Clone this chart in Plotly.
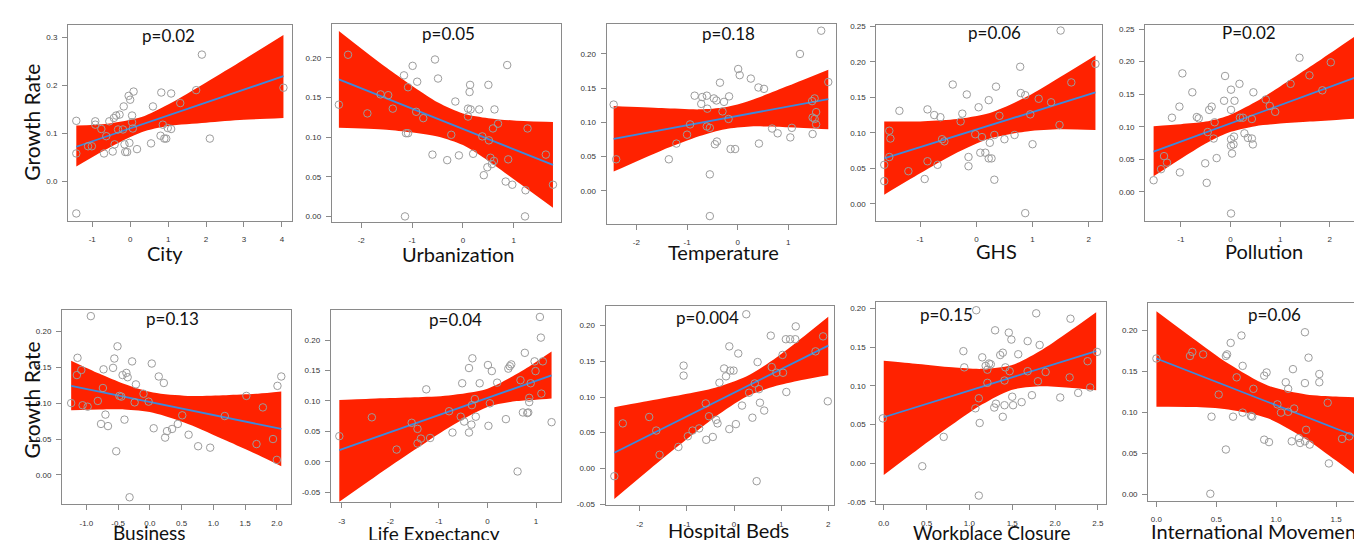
import plotly.graph_objects as go

W, H = 1362, 540

# ---------------- data ----------------
# 1. City
city_x = [-1.42, -1.42, -1.42, -0.92, -0.92, -0.76, -1.11, -1.01, -0.69, -0.63, -0.55, -0.43, -0.37, -0.28,
          -0.32, -0.19, -0.46, -0.41, -0.17, -0.15, -0.13, -0.08, -0.04, 0.0, 0.09, 0.05, 0.05, 0.07, -0.02,
          0.18, 0.55, 0.60, 0.82, 0.80, 0.86, 0.90, 0.95, 0.99, 1.08, 1.08, 1.32, 1.74, 1.89, 2.10, 4.04]
city_y = [0.126, 0.058, -0.067, 0.125, 0.118, 0.109, 0.073, 0.073, 0.058, 0.094, 0.125, 0.132, 0.137, 0.139,
          0.108, 0.108, 0.062, 0.077, 0.156, 0.077, 0.061, 0.061, 0.178, 0.170, 0.187, 0.137, 0.123, 0.110, 0.080,
          0.067, 0.079, 0.156, 0.185, 0.095, 0.118, 0.089, 0.089, 0.111, 0.183, 0.109, 0.163, 0.190, 0.264, 0.089, 0.195]
city_band_x = [-1.42, -0.6, 0.3, 1.0, 2.0, 3.0, 4.04]
city_upper = [0.116, 0.120, 0.134, 0.160, 0.206, 0.254, 0.305]
city_lower = [0.031, 0.068, 0.102, 0.115, 0.122, 0.128, 0.132]
city_line_x = [-1.42, 4.04]
city_line_y = [0.072, 0.219]

# 2. Urbanization
urb_x = [-2.44, -2.26, -1.88, -1.62, -1.47, -1.38, -1.16, -1.08, -1.12, -1.08, -1.14, -0.99, -0.90, -0.92,
         -0.78, -0.60, -0.55, -0.49, -0.31, -0.23, -0.15, -0.08, 0.10, 0.10, 0.13, 0.14, 0.15, 0.20, 0.32,
         0.38, 0.41, 0.50, 0.51, 0.48, 0.54, 0.57, 0.59, 0.62, 0.61, 0.69, 0.84, 0.87, 0.89, 0.97, 1.23,
         1.22, 1.27, 1.63, 1.77]
urb_y = [0.141, 0.204, 0.130, 0.154, 0.153, 0.136, 0.178, 0.163, 0.105, 0.105, 0.000, 0.190, 0.170, 0.132,
         0.124, 0.078, 0.198, 0.174, 0.071, 0.103, 0.145, 0.077, 0.136, 0.126, 0.157, 0.166, 0.135, 0.079, 0.135,
         0.101, 0.052, 0.166, 0.096, 0.062, 0.074, 0.066, 0.111, 0.135, 0.070, 0.117, 0.044, 0.191, 0.072, 0.040,
         0.033, 0.000, 0.111, 0.078, 0.040]
urb_band_x = [-2.44, -1.5, -0.5, 0.0, 0.5, 1.0, 1.77]
urb_upper = [0.234, 0.1875, 0.144, 0.130, 0.124, 0.121, 0.119]
urb_lower = [0.112, 0.1095, 0.101, 0.090, 0.070, 0.047, 0.011]
urb_line_x = [-2.44, 1.77]
urb_line_y = [0.173, 0.065]

# 3. Temperature
temp_x = [-2.45, -2.40, -1.36, -1.21, -1.00, -0.94, -0.85, -0.70, -0.72, -0.61, -0.60, -0.61, -0.55, -0.55,
          -0.55, -0.47, -0.42, -0.45, -0.41, -0.35, -0.30, -0.27, -0.18, -0.17, -0.14, -0.05, 0.01, 0.04,
          0.26, 0.41, 0.42, 0.52, 0.68, 0.79, 1.04, 1.07, 1.23, 1.47, 1.52, 1.48, 1.52, 1.48, 1.55, 1.55,
          1.65, 1.79]
temp_y = [0.126, 0.046, 0.046, 0.069, 0.082, 0.097, 0.139, 0.137, 0.127, 0.139, 0.120, 0.094, 0.092, 0.024,
          -0.037, 0.135, 0.132, 0.068, 0.072, 0.158, 0.116, 0.130, 0.105, 0.138, 0.061, 0.061, 0.178, 0.169,
          0.164, 0.151, 0.069, 0.149, 0.091, 0.084, 0.078, 0.092, 0.200, 0.131, 0.135, 0.107, 0.105, 0.083,
          0.115, 0.097, 0.234, 0.159]
temp_band_x = [-2.45, -1.5, -0.75, -0.25, 0.25, 1.0, 1.79]
temp_upper = [0.124, 0.121, 0.119, 0.122, 0.132, 0.1535, 0.177]
temp_lower = [0.028, 0.059, 0.080, 0.090, 0.094, 0.093, 0.090]
temp_line_x = [-2.45, 1.79]
temp_line_y = [0.076, 0.134]

# 4. GHS
ghs_x = [-1.64, -1.64, -1.55, -1.53, -1.55, -1.37, -1.21, -0.92, -0.87, -0.87, -0.75, -0.69, -0.64, -0.61,
         -0.57, -0.42, -0.28, -0.25, -0.17, -0.14, -0.14, -0.02, 0.04, 0.10, 0.07, 0.16, 0.22, 0.22, 0.27,
         0.24, 0.32, 0.32, 0.35, 0.41, 0.50, 0.68, 0.78, 0.79, 0.87, 0.87, 0.96, 1.00, 1.11, 1.33, 1.48,
         1.50, 1.69, 2.12]
ghs_y = [0.032, 0.055, 0.103, 0.092, 0.066, 0.131, 0.046, 0.035, 0.133, 0.060, 0.125, 0.055, 0.122, 0.091,
         0.088, 0.168, 0.116, 0.127, 0.154, 0.066, 0.053, 0.098, 0.136, 0.094, 0.072, 0.072, 0.146, 0.064, 0.064,
         0.086, 0.097, 0.034, 0.165, 0.124, 0.091, 0.097, 0.193, 0.156, 0.153, -0.013, 0.126, 0.084, 0.148,
         0.143, 0.111, 0.244, 0.171, 0.197]
ghs_band_x = [-1.64, -1.0, -0.4, 0.24, 0.9, 1.5, 2.12]
ghs_upper = [0.116, 0.116, 0.119, 0.128, 0.151, 0.179, 0.209]
ghs_lower = [0.013, 0.043, 0.070, 0.092, 0.102, 0.105, 0.104]
ghs_line_x = [-1.64, 2.12]
ghs_line_y = [0.064, 0.157]

# 5. Pollution
pol_x = [-1.55, -1.40, -1.34, -1.28, -1.18, -1.03, -1.02, -0.97, -0.77, -0.68, -0.64, -0.51, -0.48, -0.46,
         -0.43, -0.38, -0.34, -0.32, -0.28, -0.13, -0.11, 0.01, 0.01, 0.01, 0.03, 0.01, 0.07, 0.06, 0.08,
         0.01, 0.18, 0.19, 0.25, 0.28, 0.35, 0.43, 0.43, 0.45, 0.46, 0.71, 0.79, 0.90, 1.21, 1.39, 1.59,
         1.85, 2.02, 2.64, 2.72]
pol_y = [0.018, 0.035, 0.055, 0.045, 0.114, 0.131, 0.030, 0.182, 0.153, 0.115, 0.113, 0.044, 0.014, 0.092,
         0.126, 0.131, 0.082, 0.107, 0.052, 0.140, 0.178, 0.157, 0.126, 0.071, 0.059, 0.081, 0.085, 0.073, 0.140,
         -0.033, 0.166, 0.114, 0.114, 0.090, 0.083, 0.112, 0.082, 0.073, 0.153, 0.142, 0.132, 0.123, 0.166,
         0.206, 0.179, 0.156, 0.199, 0.152, 0.152]
pol_band_x = [-1.55, -1.0, -0.5, -0.05, 0.5, 1.0, 1.6, 2.2, 2.78]
pol_upper = [0.101, 0.104, 0.108, 0.117, 0.138, 0.162, 0.192, 0.223, 0.253]
pol_lower = [0.024, 0.051, 0.0745, 0.091, 0.101, 0.105, 0.108, 0.111, 0.114]
pol_line_x = [-1.55, 2.78]
pol_line_y = [0.062, 0.183]

# 6. Business
bus_x = [-1.24, -1.15, -1.14, -1.08, -1.06, -0.98, -0.93, -0.82, -0.77, -0.73, -0.74, -0.70, -0.66, -0.58,
         -0.56, -0.53, -0.51, -0.48, -0.45, -0.43, -0.40, -0.37, -0.35, -0.32, -0.28, -0.24, -0.22, -0.10,
         -0.02, 0.03, 0.06, 0.14, 0.22, 0.24, 0.27, 0.35, 0.44, 0.51, 0.61, 0.76, 0.95, 1.18, 1.52, 1.68,
         1.78, 1.94, 2.00, 2.01, 2.07]
bus_y = [0.100, 0.139, 0.163, 0.146, 0.097, 0.095, 0.221, 0.103, 0.071, 0.147, 0.121, 0.084, 0.068, 0.149,
         0.162, 0.033, 0.179, 0.110, 0.109, 0.139, 0.077, 0.142, 0.136, -0.031, 0.158, 0.101, 0.126, 0.113,
         0.102, 0.155, 0.065, 0.137, 0.128, 0.052, 0.061, 0.064, 0.071, 0.083, 0.056, 0.040, 0.038, 0.082,
         0.110, 0.043, 0.094, 0.050, 0.021, 0.124, 0.137]
bus_band_x = [-1.24, -0.8, -0.4, 0.05, 0.6, 1.2, 1.7, 2.07]
bus_upper = [0.159, 0.141, 0.1265, 0.1146, 0.110, 0.111, 0.113, 0.116]
bus_lower = [0.090, 0.091, 0.091, 0.0866, 0.071, 0.048, 0.028, 0.012]
bus_line_x = [-1.24, 2.07]
bus_line_y = [0.124, 0.064]

# 7. Life Expectancy
life_x = [-3.05, -2.38, -1.87, -1.56, -1.44, -1.44, -1.37, -1.26, -1.18, -0.79, -0.72, -0.52, -0.55, -0.48,
          -0.38, -0.38, -0.33, -0.31, -0.32, -0.26, -0.24, -0.16, 0.01, 0.02, 0.05, 0.09, 0.20, 0.38, 0.43,
          0.46, 0.49, 0.62, 0.68, 0.73, 0.77, 0.82, 0.84, 0.86, 0.86, 0.89, 0.97, 0.99, 1.08, 1.10, 1.11,
          1.14, 1.32]
life_y = [0.042, 0.073, 0.020, 0.064, 0.054, 0.030, 0.038, 0.119, 0.039, 0.083, 0.048, 0.129, 0.074, 0.066,
          0.154, 0.048, 0.061, 0.170, 0.093, 0.103, 0.074, 0.129, 0.159, 0.059, 0.096, 0.149, 0.130, 0.070, 0.153,
          0.157, 0.160, -0.016, 0.134, 0.081, 0.179, 0.080, 0.081, 0.105, 0.098, 0.129, 0.165, 0.149, 0.238,
          0.204, 0.112, 0.165, 0.065]
life_band_x = [-3.05, -2.3, -1.5, -0.8, 0.0, 0.6, 1.0, 1.32]
life_upper = [0.1015, 0.104, 0.106, 0.109, 0.120, 0.144, 0.164, 0.181]
life_lower = [-0.066, -0.024, 0.0195, 0.056, 0.090, 0.0997, 0.102, 0.104]
life_line_x = [-3.05, 1.32]
life_line_y = [0.019, 0.142]

# 8. Hospital Beds
hosp_x = [-2.54, -2.36, -1.80, -1.65, -1.58, -1.18, -1.07, -1.07, -0.98, -0.88, -0.74, -0.60, -0.59, -0.53,
          -0.45, -0.38, -0.35, -0.31, -0.21, -0.17, -0.10, -0.10, -0.08, -0.01, 0.04, 0.09, 0.17, 0.26, 0.32,
          0.39, 0.50, 0.48, 0.53, 0.55, 0.64, 0.44, 0.78, 0.80, 0.90, 1.03, 1.04, 1.10, 1.11, 1.19, 1.30,
          1.31, 1.73, 1.89, 1.99]
hosp_y = [-0.011, 0.063, 0.072, 0.053, 0.019, 0.030, 0.144, 0.130, 0.045, 0.053, 0.056, 0.091, 0.040, 0.073,
          0.044, 0.068, 0.063, 0.120, 0.140, 0.129, 0.171, 0.055, 0.137, 0.137, 0.062, 0.161, 0.088, 0.216, 0.106,
          0.071, 0.149, -0.018, 0.111, 0.092, 0.081, 0.119, 0.186, 0.142, 0.134, 0.159, 0.134, 0.181, 0.107,
          0.181, 0.181, 0.199, 0.164, 0.185, 0.094]
hosp_band_x = [-2.54, -1.8, -1.0, -0.4, 0.27, 0.9, 1.5, 2.0]
hosp_upper = [0.0856, 0.0946, 0.1044, 0.113, 0.129, 0.1555, 0.186, 0.2125]
hosp_lower = [-0.043, -0.002, 0.041, 0.072, 0.1006, 0.1157, 0.1247, 0.1306]
hosp_line_x = [-2.54, 2.0]
hosp_line_y = [0.0218, 0.172]

# 9. Workplace Closure
work_x = [-0.01, 0.45, 0.70, 0.93, 0.94, 1.08, 1.07, 1.11, 1.12, 1.11, 1.15, 1.19, 1.21, 1.21, 1.23, 1.25,
          1.29, 1.31, 1.30, 1.36, 1.39, 1.39, 1.41, 1.41, 1.42, 1.46, 1.47, 1.49, 1.50, 1.51, 1.57, 1.61,
          1.68, 1.68, 1.73, 1.78, 1.80, 1.82, 1.89, 2.06, 2.18, 2.17, 2.27, 2.38, 2.41, 2.49]
work_y = [0.058, -0.004, 0.034, 0.145, 0.124, 0.198, 0.071, 0.084, 0.052, -0.042, 0.137, 0.126, 0.104, 0.121,
          0.129, 0.128, 0.072, 0.077, 0.172, 0.140, 0.143, 0.060, 0.107, 0.075, 0.124, 0.169, 0.119, 0.160,
          0.086, 0.075, 0.141, 0.079, 0.158, 0.119, 0.088, 0.194, 0.106, 0.153, 0.118, 0.085, 0.187, 0.111,
          0.091, 0.132, 0.098, 0.144]
work_band_x = [0.0, 0.4, 0.8, 1.15, 1.49, 1.85, 2.2, 2.48]
work_upper = [0.1325, 0.1284, 0.1241, 0.1221, 0.1268, 0.1469, 0.1733, 0.1955]
work_lower = [-0.0154, 0.018, 0.0499, 0.0761, 0.0948, 0.0995, 0.0973, 0.0945]
work_line_x = [0.0, 2.48]
work_line_y = [0.0594, 0.145]

# 10. International Movement
intl_x = [0.0, 0.28, 0.30, 0.39, 0.46, 0.45, 0.52, 0.58, 0.58, 0.59, 0.62, 0.64, 0.67, 0.71, 0.72, 0.72,
          0.79, 0.80, 0.81, 0.90, 0.92, 0.90, 0.94, 1.01, 1.04, 1.08, 1.10, 1.10, 1.13, 1.14, 1.15, 1.19,
          1.20, 1.24, 1.24, 1.25, 1.24, 1.28, 1.27, 1.36, 1.36, 1.43, 1.44, 1.55, 1.61, 1.70, 1.70, 1.76]
intl_y = [0.166, 0.169, 0.174, 0.171, 0.095, 0.001, 0.122, 0.055, 0.169, 0.171, 0.185, 0.095, 0.143, 0.194,
          0.157, 0.100, 0.096, 0.095, 0.129, 0.145, 0.149, 0.067, 0.064, 0.110, 0.100, 0.137, 0.129, 0.101,
          0.065, 0.153, 0.105, 0.069, 0.063, 0.198, 0.136, 0.079, 0.065, 0.061, 0.167, 0.147, 0.137, 0.112,
          0.038, 0.068, 0.071, 0.046, 0.024, 0.018]
intl_band_x = [0.0, 0.3, 0.6, 0.93, 1.25, 1.5, 1.78]
intl_upper = [0.2237, 0.1911, 0.1598, 0.133, 0.1221, 0.1195, 0.118]
intl_lower = [0.107, 0.1067, 0.1038, 0.093, 0.0675, 0.0415, 0.011]
intl_line_x = [0.0, 1.78]
intl_line_y = [0.166, 0.0645]

titles = ["City", "Urbanization", "Temperature", "GHS", "Pollution",
          "Business", "Life Expectancy", "Hospital Beds", "Workplace Closure", "International Movement"]
p_labels = ["p=0.02", "p=0.05", "p=0.18", "p=0.06", "P=0.02",
            "p=0.13", "p=0.04", "p=0.004", "p=0.15", "p=0.06"]

xtick_vals = [[-1, 0, 1, 2, 3, 4], [-2, -1, 0, 1], [-2, -1, 0, 1], [-1, 0, 1, 2], [-1, 0, 1, 2],
              [-1.0, -0.5, 0.0, 0.5, 1.0, 1.5, 2.0], [-3, -2, -1, 0, 1], [-2, -1, 0, 1, 2],
              [0.0, 0.5, 1.0, 1.5, 2.0, 2.5], [0.0, 0.5, 1.0, 1.5]]
xtick_text = [["-1", "0", "1", "2", "3", "4"], ["-2", "-1", "0", "1"], ["-2", "-1", "0", "1"],
              ["-1", "0", "1", "2"], ["-1", "0", "1", "2"],
              ["-1.0", "-0.5", "0.0", "0.5", "1.0", "1.5", "2.0"], ["-3", "-2", "-1", "0", "1"],
              ["-2", "-1", "0", "1", "2"], ["0.0", "0.5", "1.0", "1.5", "2.0", "2.5"],
              ["0.0", "0.5", "1.0", "1.5"]]
ytick_vals = [[0.0, 0.1, 0.2, 0.3], [0.0, 0.05, 0.10, 0.15, 0.20], [0.0, 0.05, 0.10, 0.15, 0.20],
              [0.0, 0.05, 0.10, 0.15, 0.20, 0.25], [0.0, 0.05, 0.10, 0.15, 0.20, 0.25],
              [0.0, 0.05, 0.10, 0.15, 0.20], [-0.05, 0.0, 0.05, 0.10, 0.15, 0.20],
              [-0.05, 0.0, 0.05, 0.10, 0.15, 0.20], [-0.05, 0.0, 0.05, 0.10, 0.15, 0.20],
              [0.0, 0.05, 0.10, 0.15, 0.20]]
ytick_text = [["0.0", "0.1", "0.2", "0.3"], ["0.00", "0.05", "0.10", "0.15", "0.20"],
              ["0.00", "0.05", "0.10", "0.15", "0.20"], ["0.00", "0.05", "0.10", "0.15", "0.20", "0.25"],
              ["0.00", "0.05", "0.10", "0.15", "0.20", "0.25"], ["0.00", "0.05", "0.10", "0.15", "0.20"],
              ["-0.05", "0.00", "0.05", "0.10", "0.15", "0.20"], ["-0.05", "0.00", "0.05", "0.10", "0.15", "0.20"],
              ["-0.05", "0.00", "0.05", "0.10", "0.15", "0.20"], ["0.00", "0.05", "0.10", "0.15", "0.20"]]

panels_data = [
    (city_x, city_y, city_band_x, city_upper, city_lower, city_line_x, city_line_y),
    (urb_x, urb_y, urb_band_x, urb_upper, urb_lower, urb_line_x, urb_line_y),
    (temp_x, temp_y, temp_band_x, temp_upper, temp_lower, temp_line_x, temp_line_y),
    (ghs_x, ghs_y, ghs_band_x, ghs_upper, ghs_lower, ghs_line_x, ghs_line_y),
    (pol_x, pol_y, pol_band_x, pol_upper, pol_lower, pol_line_x, pol_line_y),
    (bus_x, bus_y, bus_band_x, bus_upper, bus_lower, bus_line_x, bus_line_y),
    (life_x, life_y, life_band_x, life_upper, life_lower, life_line_x, life_line_y),
    (hosp_x, hosp_y, hosp_band_x, hosp_upper, hosp_lower, hosp_line_x, hosp_line_y),
    (work_x, work_y, work_band_x, work_upper, work_lower, work_line_x, work_line_y),
    (intl_x, intl_y, intl_band_x, intl_upper, intl_lower, intl_line_x, intl_line_y),
]

# ---------------- layout (pixels) ----------------
frames = [(60, 284, 14, 212), (324, 553, 13, 213), (599, 829, 13, 215), (869, 1095, 14, 212),
          (1138, 1362, 14, 212),
          (54, 283, 302, 499), (323, 553, 302, 497), (598, 827, 298, 500), (869, 1099, 294, 499),
          (1141, 1362, 295, 495)]
xranges = [[-1.64, 4.26], [-2.58, 1.92], [-2.59, 1.95], [-1.78, 2.24], [-1.72, 2.79],
           [-1.385, 2.22], [-3.226, 1.506], [-2.726, 2.13], [-0.086, 2.597], [-0.069, 1.775]]
yranges = [[-0.082, 0.326], [-0.0066, 0.243], [-0.048, 0.244], [-0.0236, 0.252], [-0.044, 0.2565],
           [-0.041, 0.230], [-0.067, 0.25], [-0.052, 0.228], [-0.0535, 0.209], [-0.0072, 0.234]]
title_pos = [(157, 245), (450, 246), (716, 244), (989, 243), (1257, 243),
             (142, 527), (426, 528), (721, 525), (985, 527), (1250, 526)]
title_sizes = [20, 20, 20, 20, 20, 19, 19, 20, 19, 20]
p_pos = [(161, 25), (441, 23), (721, 23), (987, 22), (1242, 22),
         (165, 311), (448, 312), (700, 310), (939, 307), (1267, 307)]

fig = go.Figure()
layout = dict(width=W, height=H, margin=dict(l=0, r=0, t=0, b=0), showlegend=False,
              plot_bgcolor="white", paper_bgcolor="white", annotations=[])

RED = "rgb(255,34,0)"
BLUE = "rgb(58,138,222)"
FRAME = "#8a8a8a"

for i, (px, py, bx, bu, bl, lx, ly) in enumerate(panels_data):
    n = "" if i == 0 else str(i + 1)
    xa, ya = "x" + n, "y" + n
    fig.add_trace(go.Scatter(x=bx, y=bl, mode="lines", line=dict(width=0, shape="spline", smoothing=0.8),
                             xaxis=xa, yaxis=ya, hoverinfo="skip"))
    fig.add_trace(go.Scatter(x=bx, y=bu, mode="lines", line=dict(width=0, shape="spline", smoothing=0.8),
                             fill="tonexty", fillcolor=RED, xaxis=xa, yaxis=ya, hoverinfo="skip"))
    fig.add_trace(go.Scatter(x=lx, y=ly, mode="lines", line=dict(color=BLUE, width=1.8),
                             xaxis=xa, yaxis=ya))
    fig.add_trace(go.Scatter(x=px, y=py, mode="markers",
                             marker=dict(symbol="circle-open", size=7.5, color="#9c9c9c", line=dict(width=1)),
                             xaxis=xa, yaxis=ya, cliponaxis=True))
    l, r, t, b = frames[i]
    common = dict(showgrid=False, zeroline=False, showline=True, linecolor=FRAME, linewidth=1,
                  mirror=True, ticks="outside", ticklen=5, tickcolor=FRAME, tickwidth=1,
                  tickfont=dict(family="Liberation Sans", size=8, color="#333333"))
    layout["xaxis" + n] = dict(domain=[l / W, min(r / W, 1.0)], range=xranges[i], anchor=ya,
                               tickmode="array", tickvals=xtick_vals[i], ticktext=xtick_text[i],
                               ticklabelstandoff=6, **common)
    layout["yaxis" + n] = dict(domain=[1 - b / H, 1 - t / H], range=yranges[i], anchor=xa,
                               tickmode="array", tickvals=ytick_vals[i], ticktext=ytick_text[i],
                               ticklabelstandoff=3, **common)
    tx, ty = title_pos[i]
    layout["annotations"].append(dict(text=titles[i], x=tx / W, y=1 - ty / H, xref="paper", yref="paper",
                                      xanchor="center", yanchor="middle", showarrow=False,
                                      font=dict(family="Lato", size=title_sizes[i], color="#111111")))
    ppx, ppy = p_pos[i]
    layout["annotations"].append(dict(text=p_labels[i], x=ppx / W, y=1 - ppy / H, xref="paper", yref="paper",
                                      xanchor="center", yanchor="middle", showarrow=False,
                                      font=dict(family="Lato", size=17, color="#111111")))

for gy in (112, 393):
    layout["annotations"].append(dict(text="Growth Rate", x=24 / W, y=1 - gy / H, xref="paper", yref="paper",
                                      xanchor="center", yanchor="middle", showarrow=False, textangle=-90,
                                      font=dict(family="Lato", size=21, color="#111111")))

fig.update_layout(**layout)
fig.write_html("out.html")
